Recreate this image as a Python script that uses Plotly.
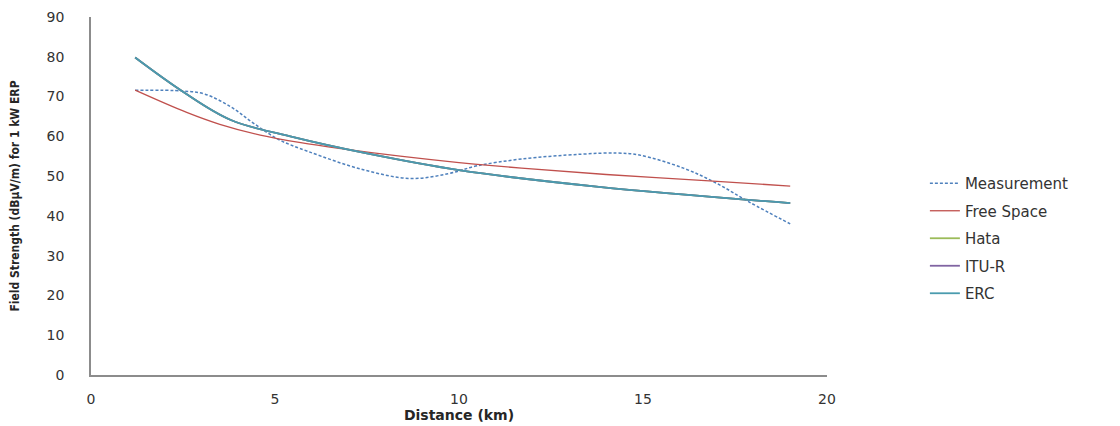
import plotly.graph_objects as go

# Measured field strength
meas_x = [1.2, 2.5, 3.1, 3.8, 4.4, 5.1, 5.9, 7.4, 8.7, 9.7, 10.5, 11.7, 13.3, 14.3, 14.9, 16.1, 17.0, 17.9, 19.0]
meas_y = [71.6, 71.4, 70.6, 67.4, 63.4, 59.2, 56.2, 51.6, 49.4, 50.6, 52.6, 54.3, 55.5, 55.8, 55.3, 52.0, 48.2, 43.4, 38.0]

# Free space
fs_x = [1.2, 2.6, 3.5, 4.6, 5.7, 6.8, 8.4, 10.0, 11.7, 14.0, 16.8, 19.0]
fs_y = [71.6, 66.0, 63.0, 60.3, 58.4, 56.9, 55.0, 53.4, 52.0, 50.4, 48.8, 47.5]

# Hata / ITU-R / ERC (overlapping)
mod_x = [1.2, 2.5, 3.8, 5.5, 7.5, 10.0, 13.8, 19.0]
hata_y = [79.8, 71.2, 64.1, 59.8, 55.7, 51.5, 47.3, 43.2]
itur_y = [79.8, 71.2, 64.1, 59.8, 55.7, 51.5, 47.3, 43.2]
erc_y = [79.8, 71.2, 64.1, 59.8, 55.7, 51.5, 47.3, 43.2]

x_ticks = [0, 5, 10, 15, 20]
y_ticks = [0, 10, 20, 30, 40, 50, 60, 70, 80, 90]

fig = go.Figure()
fig.add_trace(go.Scatter(x=meas_x, y=meas_y, name="Measurement", mode="lines",
                         line=dict(color="#4F81BD", width=1.5, dash="3px,2px", shape="spline"),
                         legendgroup="a"))
fig.add_trace(go.Scatter(x=fs_x, y=fs_y, name="Free Space", mode="lines",
                         line=dict(color="#C0504D", width=1.3, shape="spline"), legendgroup="b"))
fig.add_trace(go.Scatter(x=mod_x, y=hata_y, name="Hata", mode="lines",
                         line=dict(color="#9BBB59", width=1.8, shape="spline"), legendgroup="c"))
fig.add_trace(go.Scatter(x=mod_x, y=itur_y, name="ITU-R", mode="lines",
                         line=dict(color="#8064A2", width=1.8, shape="spline"), legendgroup="d"))
fig.add_trace(go.Scatter(x=mod_x, y=erc_y, name="ERC", mode="lines",
                         line=dict(color="#4A9BAE", width=1.8, shape="spline"), legendgroup="e"))

fig.update_layout(
    width=1112, height=418,
    margin=dict(l=83, r=293, t=9, b=51, autoexpand=False),
    plot_bgcolor="white", paper_bgcolor="white",
    font=dict(family="DejaVu Sans", size=13, color="#333333"),
    legend=dict(x=1.133, y=0.581, xanchor="left", yanchor="top",
                font=dict(family="DejaVu Sans", size=15, color="#333333"),
                tracegroupgap=5, bgcolor="rgba(0,0,0,0)"),
    showlegend=True,
)
fig.update_xaxes(range=[0, 20], tickvals=x_ticks, showgrid=False, zeroline=False,
                 showline=True, linecolor="#8C8C8C", linewidth=1.5, automargin=False,
                 ticks="", ticklabelstandoff=10, tickfont=dict(size=14),
                 title=dict(text="Distance (km)", standoff=3,
                            font=dict(family="DejaVu Sans", size=14, weight="bold", color="#262626")))
fig.update_yaxes(range=[0, 90], tickvals=y_ticks, showgrid=False, zeroline=False,
                 showline=True, linecolor="#8C8C8C", linewidth=1.5, automargin=False,
                 ticks="", ticklabelstandoff=22, tickfont=dict(size=14),
                 title=dict(text="Field Strength (dBµV/m) for 1 kW ERP", standoff=24,
                            font=dict(family="DejaVu Sans Condensed", size=12, weight="bold", color="#262626")))

fig.write_html("out.html")
